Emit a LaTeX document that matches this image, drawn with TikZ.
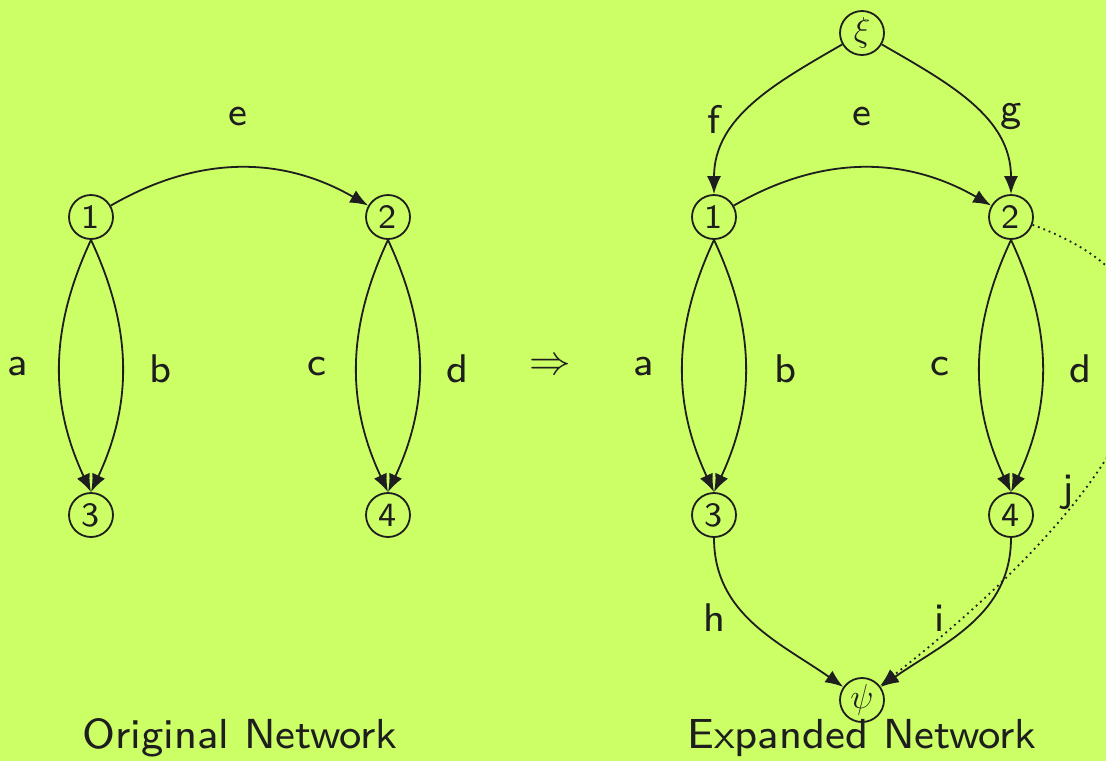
\documentclass[tikz,border=0pt]{standalone}
\usepackage{amsmath}
\usepackage{fontspec}
\setsansfont{lmsans8-regular.otf}
\usepackage{xcolor}
\usetikzlibrary{arrows.meta,positioning}

\definecolor{bglime}{HTML}{CCFF66}
\definecolor{ink}{HTML}{1E1E1E}

\begin{document}
\begin{tikzpicture}[x=0.5pt, y=-0.5pt, line width=0.9pt, draw=ink, text=ink,
  every node/.style={font=\sffamily\fontsize{20}{22}\selectfont},
  vertex/.style={draw=ink, circle, minimum size=22pt, inner sep=0pt, font=\sffamily\fontsize{17}{19}\selectfont},
  edge/.style={draw=ink, -{Latex[length=9pt,width=7pt]}},
  title/.style={font=\sffamily\fontsize{21}{23}\selectfont}]
  \useasboundingbox[fill=bglime] (0,0) rectangle (1106,761);

  % original network
  \node[vertex] (o1) at (91,217) {1};
  \node[vertex] (o2) at (388,217) {2};
  \node[vertex] (o3) at (91,515) {3};
  \node[vertex] (o4) at (388,515) {4};

  \draw[edge] (o1) to[bend left=30] (o2);
  \draw[edge] (o1.south) to[bend right=25] (o3.north);
  \draw[edge] (o1.south) to[bend left=25] (o3.north);
  \draw[edge] (o2.south) to[bend right=25] (o4.north);
  \draw[edge] (o2.south) to[bend left=25] (o4.north);

  \node (la) at (18,367) {a};
  \node (lb) at (160,369) {b};
  \node (lc) at (317,367) {c};
  \node (ld) at (457,369) {d};
  \node (le) at (238,117) {e};

  \node (arrow) at (550,367) {$\Rightarrow$};

  % expanded network
  \node[vertex] (x1) at (714,217) {1};
  \node[vertex] (x2) at (1011,217) {2};
  \node[vertex] (x3) at (714,515) {3};
  \node[vertex] (x4) at (1011,515) {4};
  \node[vertex] (xi) at (862,33) {$\xi$};
  \node[vertex] (psi) at (862,700) {$\psi$};

  \draw[edge] (x1) to[bend left=30] (x2);
  \draw[edge] (x1.south) to[bend right=25] (x3.north);
  \draw[edge] (x1.south) to[bend left=25] (x3.north);
  \draw[edge] (x2.south) to[bend right=25] (x4.north);
  \draw[edge] (x2.south) to[bend left=25] (x4.north);
  \draw[edge] (xi) to[out=210, in=90] (x1.north);
  \draw[edge] (xi) to[out=-30, in=90] (x2.north);
  \draw[edge] (x3.south) to[out=-90, in=145] (psi);
  \draw[edge] (x4.south) to[out=-90, in=35] (psi);
  \draw[edge, dotted] (x2) to[out=-20, in=38, looseness=1.35] (psi);

  \node (ra) at (644,367) {a};
  \node (rb) at (785,369) {b};
  \node (rc) at (940,367) {c};
  \node (rd) at (1080,369) {d};
  \node (re) at (862,117) {e};
  \node (rf) at (714,119) {f};
  \node (rg) at (1011,117) {g};
  \node (rh) at (714,618) {h};
  \node (ri) at (940,618) {i};
  \node (rj) at (1068,492) {j};

  \node[title] (orig) at (240,738) {Original Network};
  \node[title] (expd) at (862,738) {Expanded Network};
\end{tikzpicture}
\end{document}
